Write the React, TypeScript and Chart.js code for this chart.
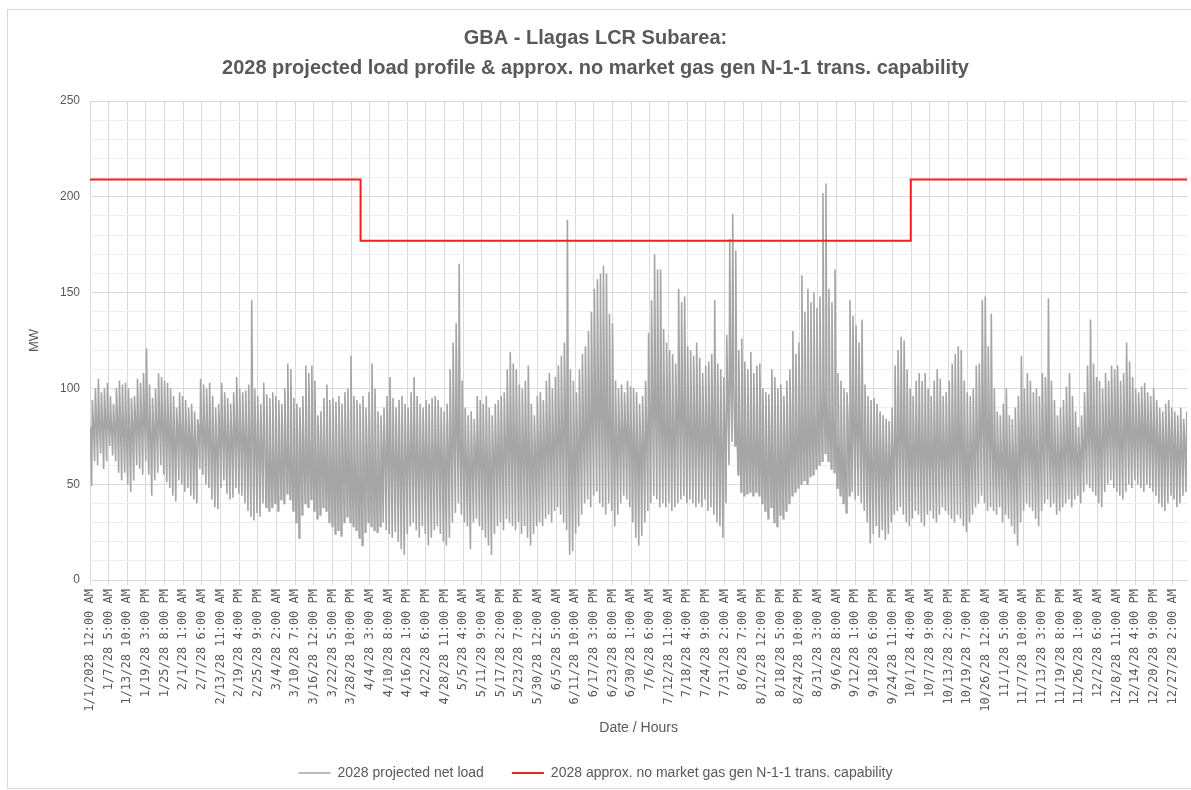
import React, { useEffect, useRef } from "react";
import { Chart, registerables } from "chart.js";

Chart.register(...registerables);

const titleLines = [
  "GBA - Llagas LCR Subarea:",
  "2028 projected load profile & approx. no market gas gen N-1-1 trans. capability",
];
const yAxisTitle = "MW";
const xAxisTitle = "Date / Hours";
const loadSeriesName = "2028 projected net load";
const capabilitySeriesName = "2028 approx. no market gas gen N-1-1 trans. capability";

// Category labels shown every 149 hours (Excel label interval)
const tickLabels = [
  "1/1/2028 12:00 AM", "1/7/28 5:00 AM", "1/13/28 10:00 AM", "1/19/28 3:00 PM", "1/25/28 8:00 PM",
  "2/1/28 1:00 AM", "2/7/28 6:00 AM", "2/13/28 11:00 AM", "2/19/28 4:00 PM", "2/25/28 9:00 PM",
  "3/4/28 2:00 AM", "3/10/28 7:00 AM", "3/16/28 12:00 PM", "3/22/28 5:00 PM", "3/28/28 10:00 PM",
  "4/4/28 3:00 AM", "4/10/28 8:00 AM", "4/16/28 1:00 PM", "4/22/28 6:00 PM", "4/28/28 11:00 PM",
  "5/5/28 4:00 AM", "5/11/28 9:00 AM", "5/17/28 2:00 PM", "5/23/28 7:00 PM", "5/30/28 12:00 AM",
  "6/5/28 5:00 AM", "6/11/28 10:00 AM", "6/17/28 3:00 PM", "6/23/28 8:00 PM", "6/30/28 1:00 AM",
  "7/6/28 6:00 AM", "7/12/28 11:00 AM", "7/18/28 4:00 PM", "7/24/28 9:00 PM", "7/31/28 2:00 AM",
  "8/6/28 7:00 AM", "8/12/28 12:00 PM", "8/18/28 5:00 PM", "8/24/28 10:00 PM", "8/31/28 3:00 AM",
  "9/6/28 8:00 AM", "9/12/28 1:00 PM", "9/18/28 6:00 PM", "9/24/28 11:00 PM", "10/1/28 4:00 AM",
  "10/7/28 9:00 AM", "10/13/28 2:00 PM", "10/19/28 7:00 PM", "10/26/28 12:00 AM", "11/1/28 5:00 AM",
  "11/7/28 10:00 AM", "11/13/28 3:00 PM", "11/19/28 8:00 PM", "11/26/28 1:00 AM", "12/2/28 6:00 AM",
  "12/8/28 11:00 AM", "12/14/28 4:00 PM", "12/20/28 9:00 PM", "12/27/28 2:00 AM",
];
const TICK_INTERVAL_HOURS = 149;
const LAST_HOUR = 8759;

// hour of day at which each daily reading sits
const NIGHT_HOUR = 3;
const TROUGH_HOUR = 13;
const PEAK_HOUR = 19;

// Night-time (core band) load per day, MW
const nightLoadMW = [
  // Jan
  80, 82, 84, 82, 83, 85, 82, 80, 82, 84, 83, 80, 78, 80, 82, 84, 83, 85, 86, 82, 78, 80, 82, 84, 83, 82, 80, 78, 76, 80, 79,
  // Feb
  78, 76, 76, 74, 72, 80, 80, 78, 78, 74, 72, 72, 78, 78, 76, 74, 76, 80, 78, 76, 76, 74, 72, 80, 74, 72, 70, 74,
  // Mar
  72, 70, 70, 72, 72, 74, 76, 72, 70, 68, 70, 74, 74, 76, 74, 70, 70, 72, 72, 70, 68, 68, 70, 68, 70, 72, 74, 70, 68, 66, 66,
  // Apr
  66, 68, 70, 72, 70, 66, 66, 68, 68, 70, 68, 66, 66, 64, 62, 66, 68, 70, 68, 66, 66, 68, 66, 64, 66, 68, 68, 66, 64, 68,
  // May
  72, 76, 80, 70, 66, 64, 62, 64, 68, 68, 66, 66, 64, 62, 66, 68, 68, 68, 72, 76, 74, 74, 72, 70, 72, 72, 66, 66, 68, 70, 70,
  // Jun
  72, 74, 72, 74, 76, 78, 78, 86, 70, 66, 68, 72, 76, 80, 82, 84, 88, 90, 92, 92, 90, 84, 82, 76, 76, 78, 80, 80, 78, 74,
  // Jul
  72, 70, 72, 74, 80, 86, 94, 92, 90, 84, 82, 82, 80, 80, 88, 88, 88, 82, 82, 80, 82, 80, 78, 78, 80, 80, 84, 76, 74, 72, 80,
  // Aug
  96, 104, 100, 86, 84, 82, 80, 82, 80, 80, 80, 76, 74, 72, 76, 74, 72, 74, 72, 76, 78, 84, 82, 84, 92, 90, 92, 90, 92, 88, 94,
  // Sep
  100, 104, 94, 92, 92, 78, 74, 72, 70, 84, 84, 82, 80, 82, 72, 68, 66, 62, 66, 66, 64, 64, 62, 64, 66, 72, 76, 78, 76, 72,
  // Oct
  68, 70, 72, 72, 70, 70, 68, 70, 72, 72, 70, 70, 70, 72, 74, 76, 76, 72, 66, 66, 68, 70, 74, 82, 84, 84, 80, 72, 68, 66, 66,
  // Nov
  68, 64, 64, 64, 62, 70, 70, 72, 72, 70, 68, 64, 70, 72, 80, 70, 68, 66, 66, 68, 70, 72, 70, 68, 66, 68, 72, 76, 80, 78,
  // Dec
  76, 74, 72, 78, 78, 80, 80, 80, 78, 76, 80, 80, 78, 78, 80, 82, 82, 80, 78, 78, 76, 74, 72, 72, 72, 74, 72, 70, 68, 70, 72,
];

// Daily minimum (midday) net load, MW
const dailyTroughMW = [
  // Jan
  49, 62, 60, 66, 58, 62, 70, 65, 62, 56, 52, 56, 50, 46, 52, 60, 58, 55, 62, 55, 44, 52, 56, 60, 55, 51, 48, 44, 41, 52, 50,
  // Feb
  46, 48, 44, 42, 40, 58, 55, 50, 48, 42, 38, 37, 48, 52, 45, 42, 43, 48, 45, 44, 40, 36, 33, 31, 35, 33, 40, 38,
  // Mar
  36, 38, 40, 36, 42, 40, 45, 42, 36, 30, 22, 34, 40, 38, 42, 36, 32, 34, 38, 36, 30, 28, 24, 26, 23, 30, 33, 30, 28, 26, 22,
  // Apr
  18, 25, 30, 28, 26, 25, 28, 30, 26, 24, 22, 25, 20, 16, 13, 24, 28, 30, 26, 22, 28, 24, 18, 22, 26, 28, 24, 20, 18, 22,
  // May
  30, 35, 40, 34, 30, 28, 16, 30, 32, 28, 26, 22, 18, 13, 24, 28, 30, 26, 32, 30, 28, 26, 30, 24, 28, 22, 18, 24, 28, 30, 28,
  // Jun
  32, 34, 30, 36, 38, 34, 30, 26, 13, 15, 24, 28, 34, 40, 42, 38, 44, 46, 40, 38, 34, 40, 36, 28, 34, 40, 44, 42, 38, 30,
  // Jul
  22, 18, 23, 30, 36, 40, 44, 42, 38, 40, 38, 40, 36, 38, 40, 42, 44, 40, 42, 40, 38, 40, 38, 42, 36, 38, 34, 30, 28, 22, 40,
  // Aug
  60, 72, 70, 55, 46, 44, 45, 46, 44, 46, 44, 40, 36, 32, 38, 30, 28, 34, 32, 36, 40, 44, 46, 48, 50, 52, 50, 54, 55, 58, 60,
  // Sep
  62, 66, 62, 58, 56, 48, 44, 40, 35, 44, 46, 42, 44, 40, 36, 30, 19, 24, 28, 22, 26, 21, 24, 30, 34, 36, 38, 34, 30, 28,
  // Oct
  32, 36, 34, 30, 28, 34, 36, 32, 30, 34, 38, 36, 34, 32, 30, 34, 32, 28, 25, 30, 34, 38, 40, 44, 40, 36, 38, 36, 34, 38, 30,
  // Nov
  34, 32, 28, 24, 18, 30, 36, 40, 38, 36, 32, 28, 36, 40, 42, 38, 40, 34, 36, 38, 40, 42, 38, 42, 44, 40, 46, 50, 48, 46,
  // Dec
  44, 40, 38, 46, 50, 52, 48, 46, 44, 42, 46, 50, 48, 52, 50, 48, 46, 50, 48, 46, 44, 40, 38, 36, 40, 44, 42, 38, 40, 44, 46,
];

// Daily maximum (evening) net load, MW
const dailyPeakMW = [
  // Jan
  94, 100, 105, 98, 100, 103, 96, 92, 100, 104, 102, 103, 100, 95, 96, 105, 103, 108, 121, 102, 95, 100, 108, 106, 104, 103, 100, 96, 90, 98, 96,
  // Feb
  94, 90, 92, 88, 84, 105, 102, 100, 103, 96, 90, 92, 103, 98, 95, 92, 98, 106, 100, 98, 99, 102, 146, 100, 96, 92, 103, 97,
  // Mar
  95, 98, 96, 94, 92, 100, 113, 110, 95, 92, 90, 96, 112, 108, 112, 104, 86, 88, 95, 102, 94, 95, 93, 96, 92, 98, 100, 117, 96, 94, 92,
  // Apr
  96, 90, 98, 113, 100, 88, 86, 90, 96, 106, 95, 90, 94, 96, 92, 90, 98, 106, 96, 92, 90, 94, 92, 95, 96, 94, 90, 88, 92, 110,
  // May
  124, 134, 165, 104, 90, 86, 88, 84, 96, 94, 92, 96, 90, 86, 92, 94, 96, 98, 110, 119, 113, 110, 102, 100, 104, 112, 92, 86, 96, 98, 94,
  // Jun
  104, 108, 100, 106, 112, 117, 124, 188, 110, 104, 98, 110, 118, 122, 130, 140, 152, 157, 160, 164, 160, 139, 134, 104, 100, 102, 98, 104, 101, 100,
  // Jul
  98, 92, 96, 104, 129, 146, 170, 162, 162, 131, 124, 120, 118, 113, 152, 145, 148, 122, 120, 117, 124, 116, 108, 112, 114, 118, 146, 113, 110, 106, 128,
  // Aug
  178, 191, 172, 120, 126, 114, 110, 119, 108, 112, 113, 100, 98, 97, 110, 106, 100, 102, 96, 104, 110, 130, 118, 124, 159, 140, 152, 145, 150, 142, 148,
  // Sep
  202, 207, 152, 145, 162, 108, 104, 100, 98, 146, 138, 133, 124, 136, 102, 96, 94, 95, 92, 88, 86, 84, 83, 90, 112, 120, 127, 125, 110, 100,
  // Oct
  96, 104, 108, 104, 108, 100, 96, 104, 110, 105, 96, 98, 104, 113, 118, 122, 120, 104, 98, 96, 100, 112, 113, 146, 148, 122, 139, 100, 88, 86, 92,
  // Nov
  100, 86, 84, 90, 96, 117, 100, 108, 104, 98, 100, 96, 108, 106, 147, 104, 94, 86, 90, 94, 101, 108, 96, 88, 80, 86, 98, 112, 136, 113,
  // Dec
  106, 104, 100, 108, 104, 112, 110, 112, 104, 108, 124, 114, 106, 100, 98, 101, 103, 98, 96, 100, 94, 90, 88, 92, 94, 90, 88, 86, 90, 84, 88,
];

// Transmission capability steps (start hour, MW)
const capabilityStartHour = [0, 2160, 6552, LAST_HOUR];
const capabilityMW = [209, 177, 209, 209];

const TEXT_COLOR = "#595959";
const SANS = "'Liberation Sans', Arial, sans-serif";

export default function App() {
  const canvasRef = useRef<HTMLCanvasElement>(null);

  useEffect(() => {
    const loadPoints: { x: number; y: number }[] = [];
    for (let d = 0; d < dailyPeakMW.length; d++) {
      loadPoints.push({ x: d * 24 + NIGHT_HOUR, y: nightLoadMW[d] });
      loadPoints.push({ x: d * 24 + TROUGH_HOUR, y: dailyTroughMW[d] });
      loadPoints.push({ x: d * 24 + PEAK_HOUR, y: dailyPeakMW[d] });
    }
    const capPoints = capabilityStartHour.map((h, i) => ({ x: h, y: capabilityMW[i] }));
    const tickHours = tickLabels.map((_, i) => i * TICK_INTERVAL_HOURS);

    const chart = new Chart(canvasRef.current as HTMLCanvasElement, {
      type: "line",
      data: {
        datasets: [
          {
            label: loadSeriesName,
            data: loadPoints,
            borderColor: "#a5a5a5",
            backgroundColor: "#a5a5a5",
            borderWidth: 1.6,
            pointRadius: 0,
            tension: 0,
            order: 1,
          },
          {
            label: capabilitySeriesName,
            data: capPoints,
            borderColor: "#f02020",
            backgroundColor: "#f02020",
            borderWidth: 2,
            pointRadius: 0,
            stepped: "before",
            order: 0,
          },
        ],
      } as any,
      options: {
        animation: false,
        responsive: true,
        maintainAspectRatio: false,
        parsing: false,
        layout: { padding: { left: 3, right: 3, top: 0, bottom: 0 } },
        plugins: {
          title: {
            display: true,
            text: titleLines,
            color: TEXT_COLOR,
            font: { family: SANS, size: 20, weight: "bold", lineHeight: 30 / 20 },
            padding: { top: 23, bottom: 18 },
          },
          legend: {
            position: "bottom",
            labels: {
              usePointStyle: true,
              pointStyle: "line",
              pointStyleWidth: 32,
              padding: 28,
              color: TEXT_COLOR,
              font: { family: SANS, size: 14 },
              sort: (a: any, b: any) => a.datasetIndex - b.datasetIndex,
            },
          },
          tooltip: { enabled: false },
        },
        scales: {
          x: {
            type: "linear",
            min: 0,
            max: LAST_HOUR,
            afterBuildTicks: (axis: any) => {
              axis.ticks = tickHours.map((v) => ({ value: v }));
            },
            afterFit: (axis: any) => {
              axis.height = 158;
            },
            ticks: {
              autoSkip: false,
              minRotation: 90,
              maxRotation: 90,
              padding: 4,
              color: TEXT_COLOR,
              font: { family: "'DejaVu Sans Mono', monospace", size: 12 },
              callback: (_v: any, i: number) => tickLabels[i],
            },
            grid: { color: "#d9d9d9", tickLength: 5, drawTicks: true },
            border: { color: "#d9d9d9" },
            title: {
              display: true,
              text: xAxisTitle,
              color: TEXT_COLOR,
              font: { family: SANS, size: 14 },
              padding: { top: 0, bottom: 1 },
            },
          },
          y: {
            min: 0,
            max: 250,
            afterFit: (axis: any) => {
              axis.width = 87;
            },
            ticks: {
              stepSize: 10,
              padding: 10,
              color: TEXT_COLOR,
              font: { family: SANS, size: 12 },
              callback: (v: any) => (Number(v) % 50 === 0 ? String(v) : ""),
            },
            grid: {
              drawTicks: false,
              color: (ctx: any) => (ctx.tick && ctx.tick.value % 50 === 0 ? "#d9d9d9" : "#eeeeee"),
            },
            border: { display: false },
            title: {
              display: true,
              text: yAxisTitle,
              color: TEXT_COLOR,
              font: { family: SANS, size: 13 },
              padding: { top: 24, bottom: 0 },
            },
          },
        },
      } as any,
    });
    return () => chart.destroy();
  }, []);

  return (
    <div style={{ position: "absolute", left: 0, top: 0, width: 1191, height: 790, overflow: "hidden", background: "#ffffff" }}>
      <div
        style={{
          position: "absolute",
          left: 7,
          top: 9,
          width: 1200,
          height: 780,
          border: "1px solid #d9d9d9",
          boxSizing: "border-box",
        }}
      />
      <div style={{ position: "absolute", left: 0, top: 0, width: 1191, height: 790 }}>
        <canvas ref={canvasRef} />
      </div>
    </div>
  );
}
